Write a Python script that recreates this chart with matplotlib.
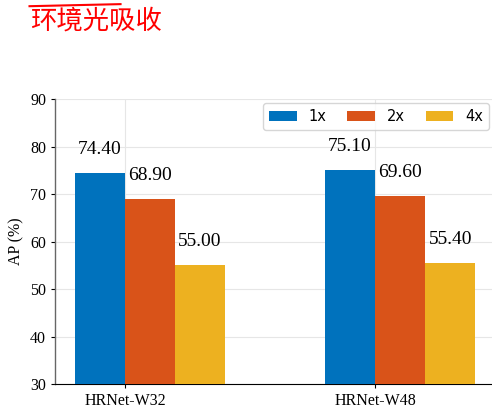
import numpy as np
import matplotlib.pyplot as plt
from matplotlib.lines import Line2D

# data
models = ["HRNet-W32", "HRNet-W48"]
scales = ["1x", "2x", "4x"]
ap_1x = [74.40, 75.10]
ap_2x = [68.90, 69.60]
ap_4x = [55.00, 55.40]
colors = ["#0072BD", "#D95319", "#EDB120"]

fig = plt.figure(figsize=(4.92, 4.13), dpi=100)
ax = fig.add_axes([0.112, 0.070, 0.895, 0.690])

x = np.arange(len(models))
w = 0.2
series = [ap_1x, ap_2x, ap_4x]
for i, (vals, lab, c) in enumerate(zip(series, scales, colors)):
    pos = x - w / 2 + i * w
    ax.bar(pos, vals, width=w, color=c, label=lab, zorder=3)
    for p, v in zip(pos, vals):
        ax.text(p, v + 3.2, f"{v:.2f}", ha="center", va="bottom",
                fontsize=14, family="Liberation Serif", zorder=4)

ax.set_ylim(30, 90)
ax.set_yticks(range(30, 91, 10))
ax.set_xlim(-0.279, 1.481)
ax.set_xticks(x)
ax.set_xticklabels(models)
for t in ax.get_xticklabels() + ax.get_yticklabels():
    t.set_family("Liberation Serif")
    t.set_fontsize(11.5)
ax.set_ylabel("AP (%)", family="Liberation Serif", fontsize=11.5)

ax.grid(True, color="#e6e6e6", linewidth=0.8, zorder=0)
ax.spines["top"].set_visible(False)
ax.spines["right"].set_visible(False)
ax.spines["left"].set_color("#666666")
ax.spines["left"].set_linewidth(1.0)
ax.spines["bottom"].set_color("black")
ax.tick_params(direction="out", length=3)

ax.legend(loc="upper right", ncol=3, fontsize=10.5, frameon=True,
          edgecolor="#cccccc", handlelength=1.9, handleheight=0.7,
          columnspacing=1.45, borderaxespad=0.3,
          bbox_to_anchor=(0.995, 1.0))

# red handwritten tag in the top-left corner
fig.text(0.06, 0.948, "环境光吸收", color="red", fontsize=19,
         family=["Noto Sans CJK SC", "DejaVu Sans"], va="center", ha="left")
fig.add_artist(Line2D([0.06, 0.245], [0.985, 0.99], color="red",
                      linewidth=1.5, transform=fig.transFigure))

fig.savefig("out.png", dpi=100)
